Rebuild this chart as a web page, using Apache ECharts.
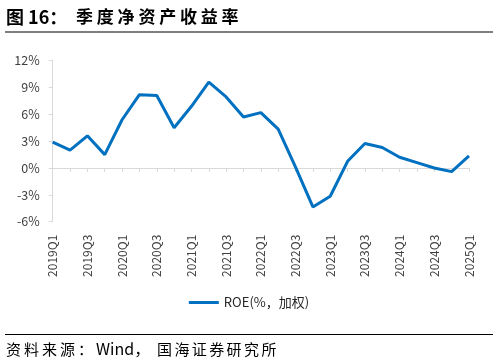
<!DOCTYPE html>
<html><head><meta charset="utf-8">
<script src="https://cdn.jsdelivr.net/npm/echarts@6/dist/echarts.min.js"></script>
<style>html,body{margin:0;padding:0;background:#fff}#c{width:498px;height:362px}</style>
</head><body><div id="c"></div>
<script>
const categories = ['2019Q1','2019Q2','2019Q3','2019Q4','2020Q1','2020Q2','2020Q3','2020Q4','2021Q1','2021Q2','2021Q3','2021Q4','2022Q1','2022Q2','2022Q3','2022Q4','2023Q1','2023Q2','2023Q3','2023Q4','2024Q1','2024Q2','2024Q3','2024Q4','2025Q1'];
const roe = [2.9,2.0,3.6,1.5,5.4,8.2,8.1,4.5,6.9,9.6,7.95,5.7,6.2,4.35,0.1,-4.35,-3.15,0.75,2.75,2.3,1.2,0.6,0.0,-0.4,1.35];
const seriesName = 'ROE(%，加权)';
const titlePrefix = '图 16：';
const titleText = '季度净资产收益率';
const sourceParts = ['资料来源：', 'Wind，', '国海证券研究所'];
const yTicks = {min:-6, max:12, interval:3};

const font = '"Noto Sans CJK SC","Noto Sans",sans-serif';
// spaced text layout helper (layout only)
function spaced(str, x0, y, adv, size, weight, color) {
  return Array.from(str).map((ch, i) => ({
    type:'text', x:x0 + i*adv, y:y,
    style:{text:ch, fontSize:size, fontWeight:weight, fill:color, fontFamily:font, textVerticalAlign:'middle'}
  }));
}
const graphics = [
  {type:'text', x:6, y:17, style:{text:titlePrefix, fontSize:18, fontWeight:'bold', fill:'#000', fontFamily:font, textVerticalAlign:'middle'}},
  ...spaced(titleText, 76, 17, 20.8, 17, 'bold', '#000'),
  {type:'line', shape:{x1:5,y1:32,x2:493,y2:32}, style:{stroke:'#7f7f7f', lineWidth:2}},
  {type:'line', shape:{x1:5,y1:334.5,x2:493,y2:334.5}, style:{stroke:'#000', lineWidth:1}},
  ...spaced(sourceParts[0], 6, 349, 18, 15, 'normal', '#000'),
  {type:'text', x:96, y:349, style:{text:sourceParts[1], fontSize:16, fill:'#000', fontFamily:font, textVerticalAlign:'middle'}},
  ...spaced(sourceParts[2], 157, 349, 17.4, 15, 'normal', '#000')
];

const chart = echarts.init(document.getElementById('c'), null, {renderer:'canvas'});
chart.setOption({
  animation:false,
  graphic:graphics,
  legend:{data:[seriesName], top:291, left:'center', itemWidth:30, itemHeight:3, itemGap:3,
    icon:'rect', textStyle:{fontSize:13, color:'#262626', fontFamily:font}},
  grid:{left:52.7, right:29, top:60.7, bottom:140.3, containLabel:false},
  xAxis:{type:'category', data:categories, boundaryGap:false,
    axisLine:{onZero:true, lineStyle:{color:'#d9d9d9', width:1}},
    axisTick:{show:true, length:4, alignWithLabel:true, interval:0, lineStyle:{color:'#d9d9d9'}},
    axisLabel:{rotate:90, interval:1, fontSize:12, color:'#404040', fontFamily:font, margin:13},
    splitLine:{show:false}},
  yAxis:{type:'value', min:yTicks.min, max:yTicks.max, interval:yTicks.interval,
    axisLine:{show:true, lineStyle:{color:'#d9d9d9'}},
    axisTick:{show:true, length:4, lineStyle:{color:'#d9d9d9'}},
    axisLabel:{formatter:'{value}%', fontSize:12.5, color:'#404040', fontFamily:font, margin:13},
    splitLine:{show:false}},
  series:[{name:seriesName, type:'line', data:roe, symbol:'none',
    lineStyle:{color:'#0070C0', width:3}, itemStyle:{color:'#0070C0'}}]
});
</script></body></html>
